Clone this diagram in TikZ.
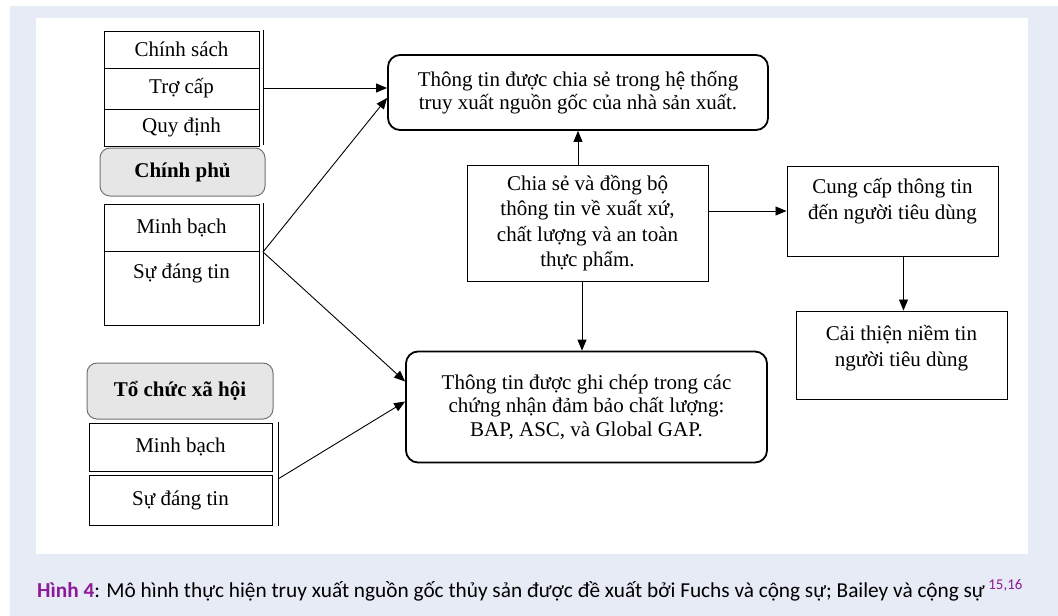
\documentclass[tikz,border=0pt]{standalone}
\usepackage{fontspec}
\setmainfont{Liberation Serif}
\newfontfamily\capfont{Carlito}
\usetikzlibrary{arrows.meta,calc}
\definecolor{bgc}{RGB}{231,235,246}
\definecolor{capc}{RGB}{140,26,150}
\definecolor{gfill}{RGB}{230,230,230}
\begin{document}
\begin{tikzpicture}[x=1pt,y=-1pt,
  txt/.style={font=\fontsize{21}{25.5}\selectfont},
  cell/.style={draw, line width=1pt, minimum width=155pt, inner sep=0pt, txt},
  side/.style={line width=1pt},
  rbox/.style={draw, line width=1.8pt, rounded corners=12pt, align=center, inner sep=0pt, font=\fontsize{21}{23.5}\selectfont},
  pbox/.style={draw, line width=1pt, align=center, inner sep=0pt, txt},
  gbox/.style={draw=black!55, line width=1pt, fill=gfill, rounded corners=10pt, inner sep=0pt, font=\fontsize{21}{24}\selectfont\bfseries},
  arr/.style={line width=0.9pt, -{Triangle[length=11pt,width=9pt]}}]
\useasboundingbox (0,0) rectangle (1058,616);
\fill[bgc] (10,6) rectangle (1058,616);
\fill[white] (36,18) rectangle (1028,554);

% Government stack
\node[cell, minimum height=37pt] (cs) at (181.5,49.5) {Chính sách};
\node[cell, minimum height=41pt] (tc) at (181.5,88.5) {Trợ cấp};
\node[cell, minimum height=37pt] (qd) at (181.5,127.5) {Quy định};
\draw[side] (263,30) -- (263,145);
\coordinate (g1) at (263,88);
\node[gbox, minimum width=165pt, minimum height=48pt] (cp) at (182.5,172) {Chính phủ};
\node[cell, minimum height=47pt] (mb1) at (181.5,227.5) {Minh bạch};
\node[cell, minimum height=74pt] (sdt1) at (181.5,288) {};
\node[txt, inner sep=0pt] (sdt1t) at (181.5,273) {Sự đáng tin};
\draw[side] (263,203) -- (263,324);
\coordinate (g2) at (263,252);

% Social organisation stack
\node[gbox, minimum width=186pt, minimum height=56pt] (tcxh) at (180,391) {Tổ chức xã hội};
\node[cell, minimum width=183pt, minimum height=48pt] (mb2) at (180.5,447) {Minh bạch};
\node[cell, minimum width=183pt, minimum height=50pt] (sdt2) at (180.5,500) {Sự đáng tin};
\draw[side] (278,422) -- (278,526);
\coordinate (s1) at (278,479);

% Main boxes
\node[rbox, minimum width=380pt, minimum height=75pt] (top) at (578,92.5) {Thông tin được chia sẻ trong hệ thống\\truy xuất nguồn gốc của nhà sản xuất.};
\node[pbox, minimum width=241pt, minimum height=116pt] (ctr) at (587.5,223) {Chia sẻ và đồng bộ\\thông tin về xuất xứ,\\chất lượng và an toàn\\thực phẩm.};
\node[rbox, minimum width=361pt, minimum height=111pt] (bot) at (586.5,407) {Thông tin được ghi chép trong các\\chứng nhận đảm bảo chất lượng:\\BAP, ASC, và Global GAP.};
\node[pbox, minimum width=211pt, minimum height=90pt] (r1) at (892.5,211) {};
\node[txt, align=center, inner sep=0pt] (r1t) at (892.5,201) {Cung cấp thông tin\\đến người tiêu dùng};
\node[pbox, minimum width=211pt, minimum height=88pt] (r2) at (901.5,355) {};
\node[txt, align=center, inner sep=0pt] (r2t) at (901.5,348) {Cải thiện niềm tin\\người tiêu dùng};

% Connectors
\coordinate (ua) at ($(ctr.north)+(-9.5,0)$);
\coordinate (da) at ($(ctr.south)+(-5.5,0)$);
\coordinate (ra) at ($(r1.south)+(11,0)$);
\draw[arr] (g1) -- (g1 -| top.west);
\draw[arr] (g2) -- ($(top.west)+(0,5.5)$);
\draw[arr] (g2) -- ($(bot.west)+(0,-25.5)$);
\draw[arr] (s1) -- ($(bot.west)+(0,-5.5)$);
\draw[arr] (ua) -- (ua |- top.south);
\draw[arr] (da) -- (da |- bot.north);
\draw[arr] (ctr.east |- r1.west) -- (r1.west);
\draw[arr] (ra) -- (ra |- r2.north);

% Caption
\node[anchor=base west, inner sep=0pt, font=\capfont\fontsize{21.3}{24}\selectfont] (cap) at (37,597) {\textcolor{capc}{\textbf{Hình 4}}: Mô hình thực hiện truy xuất nguồn gốc thủy sản được đề xuất bởi Fuchs và cộng sự; Bailey và cộng sự\,\textsuperscript{\textcolor{capc}{15,16}}};
\end{tikzpicture}
\end{document}
